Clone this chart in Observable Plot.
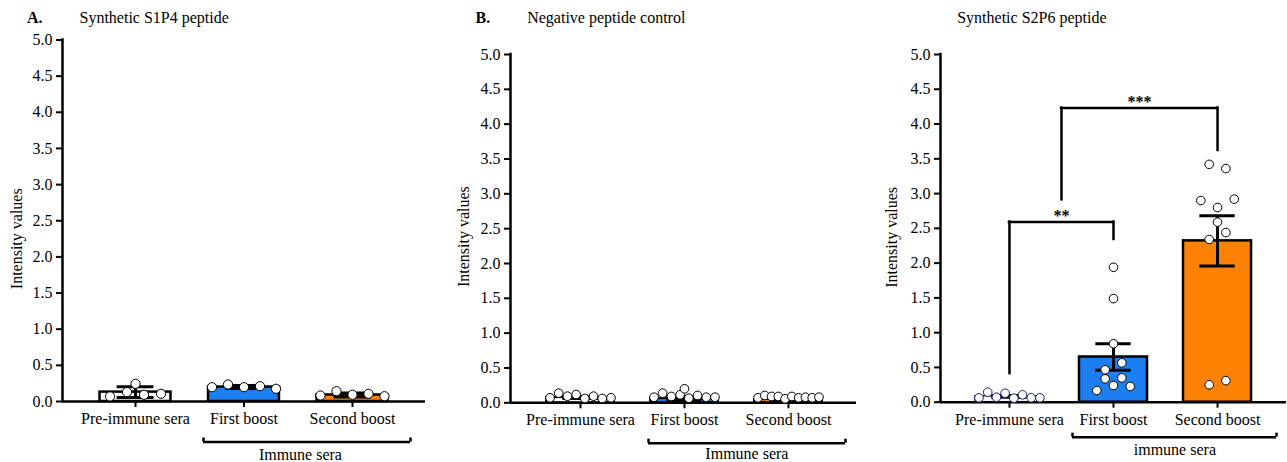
<!DOCTYPE html>
<html><head><meta charset="utf-8">
<script src="https://cdn.jsdelivr.net/npm/d3@7"></script>
<script src="https://cdn.jsdelivr.net/npm/@observablehq/plot@0.6"></script>
<style>
html,body{margin:0;padding:0;background:#fff;}
#wrap{position:relative;width:1287px;height:462px;overflow:hidden;background:#fff;}
.panel{position:absolute;top:0;}
.panel svg{display:block;overflow:visible;}
</style></head><body><div id="wrap"></div>
<script>
// ---------- data ----------
const categories = ["Pre-immune sera", "First boost", "Second boost"];
const yTicks = [0, 0.5, 1, 1.5, 2, 2.5, 3, 3.5, 4, 4.5, 5];
const yLabel = "Intensity values";

// Panel A: Synthetic S1P4 peptide
const aPre = [0.245, 0.07, 0.13, 0.093, 0.107];
const aFirst = [0.198, 0.235, 0.198, 0.212, 0.176];
const aSecond = [0.083, 0.143, 0.093, 0.107, 0.073];
const aMean = [0.13, 0.2, 0.09];
const aErr = [0.075, 0.02, 0.027];

// Panel B: Negative peptide control
const bPre = [0.072, 0.138, 0.095, 0.119, 0.062, 0.095, 0.062, 0.072];
const bFirst = [0.080, 0.138, 0.091, 0.115, 0.201, 0.066, 0.105, 0.080, 0.080];
const bSecond = [0.072, 0.105, 0.091, 0.091, 0.057, 0.091, 0.072, 0.080, 0.072, 0.080];
const bMean = [0.075, 0.06, 0.05];
const bErr = [0.012, 0.03, 0.01];

// Panel C: Synthetic S2P6 peptide
const cPre = [0.063, 0.144, 0.072, 0.129, 0.058, 0.106, 0.063, 0.063];
const cFirst = [0.168, 0.24, 0.226, 0.336, 0.35, 0.466, 0.566, 0.84, 1.49, 1.94];
const cSecond = [0.25, 0.31, 2.34, 2.44, 2.59, 2.90, 2.80, 2.92, 3.42, 3.36];
const cMean = [0.085, 0.65, 2.32];
const cErr = [0.013, 0.19, 0.36];
// significance brackets: from/to group position, bar height, leg bottoms
const cSig = [
  {label: "**", from: 0, to: 1, y: 2.59, left: 0.41, right: 2.34},
  {label: "***", from: 0.5, to: 2, y: 4.23, left: 2.91, right: 3.62}
];

// ---------- style ----------
const BLUE = "#1c7ef0", ORANGE = "#fd8204";
const FONT = "'Liberation Serif', 'Times New Roman', Times, serif";

function spreadOffsets(vals, pxPerUnit, r, slot, maxHalf) {
  const n = vals.length;
  const order = d3.range(n).sort((i, j) => vals[i] - vals[j]);
  const off = new Array(n).fill(0);
  let k = 0;
  while (k < n) {
    const start = vals[order[k]];
    const members = [];
    while (k < n && (vals[order[k]] - start) * pxPerUnit <= 2 * r + 0.01) { members.push(order[k]); k++; }
    members.sort((a, b) => a - b);
    const m = members.length;
    const s = m > 1 ? Math.min(slot, 2 * maxHalf / (m - 1)) : 0;
    members.forEach((idx, j) => off[idx] = (j - (m - 1) / 2) * s);
  }
  return off;
}

function panel(cfg) {
  const innerW = cfg.width - cfg.marginLeft - cfg.marginRight;
  const innerH = cfg.height - cfg.marginTop - cfg.marginBottom;
  const stepPx = innerW / (cfg.xDomain[1] - cfg.xDomain[0]);
  const yMax = yTicks[yTicks.length - 1];
  const pxPerUnit = innerH / yMax;
  const bars = categories.map((c, i) => ({i, c, mean: cfg.mean[i], err: cfg.err[i]}));
  const pts = [];
  cfg.values.forEach((vals, i) => {
    const off = spreadOffsets(vals, pxPerUnit, cfg.r, cfg.slot[i], cfg.maxHalf);
    vals.forEach((v, j) => pts.push({i, v, x: i + off[j] / stepPx}));
  });
  const bw = 0.327, cap = 0.17;
  const marks = [
    Plot.rectY(bars, {x1: d => d.i - bw, x2: d => d.i + bw, y1: 0, y2: "mean",
      fill: d => cfg.fills[d.i], stroke: d => cfg.barStrokes[d.i], strokeWidth: d => cfg.barStrokeWidths[d.i]}),
    Plot.ruleX(bars, {x: "i", y1: d => d.mean - d.err, y2: d => d.mean + d.err, stroke: "black", strokeWidth: 3}),
    Plot.ruleY(bars, {x1: d => d.i - cap, x2: d => d.i + cap, y: d => d.mean + d.err, stroke: "black", strokeWidth: 3}),
    Plot.ruleY(bars, {x1: d => d.i - cap, x2: d => d.i + cap, y: d => d.mean - d.err, stroke: "black", strokeWidth: 3}),
    Plot.ruleY([0], {stroke: "black", strokeWidth: 2.5}),
    Plot.ruleX([cfg.xDomain[0]], {y1: 0, y2: yMax, stroke: "black", strokeWidth: 2.5, strokeLinecap: "square"}),
    Plot.axisY({ticks: yTicks, tickFormat: d3.format(".1f"), tickSize: 6, tickPadding: 4, strokeWidth: 2, label: null, fontSize: 16}),
    Plot.axisX({ticks: d3.range(categories.length), tickFormat: i => categories[i], tickSize: 6, tickPadding: 5, strokeWidth: 2, label: null, fontSize: 16}),
    Plot.dot(pts, {x: "x", y: "v", r: cfg.r, fill: "white", stroke: d => cfg.dotStrokes[d.i], strokeWidth: 1}),
    // y label
    Plot.text([yLabel], {text: d => d, frameAnchor: "left", rotate: -90, dx: cfg.ylab[0], dy: cfg.ylab[1], textAnchor: "middle", lineAnchor: "middle", fontSize: 16}),
    // immune sera bracket
    Plot.ruleY([0], {x1: cfg.bracket.x1, x2: cfg.bracket.x2, dy: cfg.bracket.dy, stroke: "black", strokeWidth: 2.5}),
    Plot.ruleX([cfg.bracket.x1, cfg.bracket.x2], {y1: 0, y2: 4 / pxPerUnit, dy: cfg.bracket.dy, stroke: "black", strokeWidth: 2.5}),
    Plot.text([cfg.bracket.label], {text: d => d, x: cfg.bracket.tx, y: 0, dy: cfg.bracket.tdy, lineAnchor: "bottom", textAnchor: "middle", fontSize: 16}),
    // title
    Plot.text([cfg.title], {text: d => d, frameAnchor: "top-left", dx: cfg.titlePos[0], dy: cfg.titlePos[1], textAnchor: "start", lineAnchor: "bottom", fontSize: 16})
  ];
  if (cfg.letter) marks.push(Plot.text([cfg.letter], {text: d => d, frameAnchor: "top-left", dx: cfg.letterDx, dy: cfg.titlePos[1], textAnchor: "start", lineAnchor: "bottom", fontWeight: "bold", fontSize: 16}));
  if (cfg.sig) {
    marks.push(
      Plot.ruleY(cfg.sig, {x1: "from", x2: "to", y: "y", stroke: "black", strokeWidth: 2.5, strokeLinecap: "square"}),
      Plot.ruleX(cfg.sig, {x: "from", y1: "left", y2: "y", stroke: "black", strokeWidth: 2.5, strokeLinecap: "square"}),
      Plot.ruleX(cfg.sig, {x: "to", y1: "right", y2: "y", stroke: "black", strokeWidth: 2.5, strokeLinecap: "square"}),
      Plot.text(cfg.sig, {x: d => (d.from + d.to) / 2, y: "y", text: "label", dy: -1, lineAnchor: "bottom", textAnchor: "middle", fontWeight: "bold", fontSize: 16})
    );
  }
  const svg = Plot.plot({
    width: cfg.width, height: cfg.height,
    marginLeft: cfg.marginLeft, marginRight: cfg.marginRight, marginTop: cfg.marginTop, marginBottom: cfg.marginBottom,
    x: {type: "linear", domain: cfg.xDomain},
    y: {domain: [0, yMax]},
    color: {type: "identity"},
    style: {fontFamily: FONT, fontSize: "16px", background: "white", color: "black", overflow: "visible"},
    marks
  });
  const div = document.createElement("div");
  div.className = "panel";
  div.style.left = cfg.left + "px";
  div.appendChild(svg);
  document.getElementById("wrap").appendChild(div);
}

panel({
  left: 0, width: 430, height: 462, marginLeft: 62, marginRight: 5, marginTop: 39.5, marginBottom: 61,
  xDomain: [-0.673, 2.673],
  values: [aPre, aFirst, aSecond], mean: aMean, err: aErr,
  fills: ["white", BLUE, ORANGE], barStrokes: ["black", "black", "black"], barStrokeWidths: [2.5, 2.5, 2.5],
  dotStrokes: ["black", "black", "black"], r: 4.6, slot: [17, 17, 17], maxHalf: 32,
  ylab: [-46, 18],
  bracket: {x1: 0.627, x2: 2.535, dy: 40.5, label: "Immune sera", tx: 1.52, tdy: 58},
  title: "Synthetic S1P4 peptide", titlePos: [17, -16.8], letter: "A.", letterDx: -35.5
});
panel({
  left: 430, width: 430, height: 462, marginLeft: 80, marginRight: 4, marginTop: 54, marginBottom: 59.7,
  xDomain: [-0.673, 2.654],
  values: [bPre, bFirst, bSecond], mean: bMean, err: bErr,
  fills: ["white", BLUE, ORANGE], barStrokes: ["black", "black", "black"], barStrokeWidths: [2, 2, 2],
  dotStrokes: ["black", "black", "black"], r: 4.35, slot: [8.8, 8.8, 8.8], maxHalf: 30.5,
  ylab: [-46.7, 8],
  bracket: {x1: 0.654, x2: 2.548, dy: 40.4, label: "Immune sera", tx: 1.6, tdy: 56},
  title: "Negative peptide control", titlePos: [16.7, -32], letter: "B.", letterDx: -35
});
panel({
  left: 860, width: 427, height: 462, marginLeft: 80, marginRight: 1, marginTop: 54, marginBottom: 60.3,
  xDomain: [-0.663, 2.663],
  values: [cPre, cFirst, cSecond], mean: cMean, err: cErr,
  fills: ["white", BLUE, ORANGE], barStrokes: ["#2a2a7a", "black", "black"], barStrokeWidths: [1.5, 2.5, 2.5],
  dotStrokes: ["#1e2466", "black", "black"], r: 4.3, slot: [8.7, 16.7, 16.7], maxHalf: 31,
  ylab: [-48.3, 9],
  bracket: {x1: 0.606, x2: 2.567, dy: 35, label: "immune sera", tx: 1.59, tdy: 53},
  title: "Synthetic S2P6 peptide", titlePos: [16.7, -32],
  sig: cSig
});
</script></body></html>
